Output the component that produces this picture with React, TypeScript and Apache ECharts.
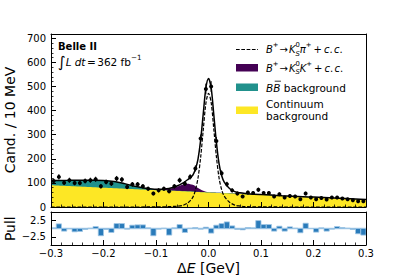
import React, { useEffect, useRef } from 'react';
import * as echarts from 'echarts';

// ---------------- data ----------------
const X_MIN = -0.3;
const X_MAX = 0.3;
const BIN_W = 0.01;

// candidates per 10 MeV bin (60 bins from -0.3 to 0.3)
const counts = [
  108, 125, 101, 111, 100, 100, 108, 111, 115, 86,
  104, 97, 118, 114, 83, 94, 94, 86, 76, 56,
  69, 76, 65, 86, 111, 97, 125, 160, 284, 490,
  500, 274, 140, 95, 69, 56, 44, 60, 58, 72,
  58, 58, 44, 53, 39, 46, 44, 32, 56, 39,
  32, 37, 31, 39, 39, 35, 32, 28, 24, 24,
];

// pull per bin
const pulls = [
  0.2, 1.4, -0.8, -0.1, -1.0, -0.9, -0.3, 0.1, 0.6, -2.2,
  -0.3, -1.2, 1.5, 1.5, -0.2, 1.0, 1.1, 1.1, 0.2, -2.2,
  -0.2, 0.1, -2.0, 0.2, 1.2, -1.2, 0.1, 0.3, -0.2, 0.4,
  -1.4, 1.0, 1.5, 2.0, 0.8, -0.3, -0.4, 0.3, 0.2, 2.4,
  1.2, 1.2, -0.8, 0.7, -0.8, 0.5, 0.1, -1.3, 1.6, 0.0,
  -1.1, 0.2, -0.8, -0.2, 0.6, 0.3, 0.1, -0.3, -1.6, -2.0,
];

// fit component curves, sampled at curveX
const curveX = [
  -0.3, -0.28, -0.26, -0.24, -0.22, -0.2, -0.18, -0.16, -0.14, -0.12, -0.1,
  -0.09, -0.08, -0.07, -0.06, -0.05, -0.04, -0.03,
  -0.025, -0.02, -0.015, -0.01, -0.005, 0, 0.005, 0.01, 0.015, 0.02, 0.025,
  0.03, 0.04, 0.05, 0.06, 0.07, 0.08,
  0.1, 0.12, 0.14, 0.16, 0.18, 0.2, 0.22, 0.24, 0.26, 0.28, 0.3,
];
const continuum = [
  90, 88, 86, 84, 82, 80, 78, 76, 74, 72, 70,
  69, 68, 67, 66, 65, 64, 63,
  62.5, 62, 61.5, 61, 60.5, 60, 59.5, 59, 58.5, 58, 57.5,
  57, 56, 55, 54, 53, 52,
  50, 48, 46, 44, 42, 40, 38, 36, 34, 32, 30,
];
const bbBkg = [
  20, 22, 25, 27, 29, 30, 28, 21, 12, 6, 3,
  2, 1.5, 1.2, 1, 1, 1, 1,
  1, 1, 1, 1, 1, 1, 1, 1, 1, 1, 1,
  1, 1, 1, 1, 1, 1,
  1, 1, 1, 1, 1, 1, 1, 1, 1, 1, 1,
];
const kskBkg = [
  0, 0, 0, 0, 0, 0, 0, 0, 0, 0, 0,
  2, 5, 10, 17, 26, 32, 28,
  23, 16, 10, 5, 2, 0.5, 0, 0, 0, 0, 0,
  0, 0, 0, 0, 0, 0,
  0, 0, 0, 0, 0, 0, 0, 0, 0, 0, 0,
];
const kspiSig = [
  0, 0, 0, 0, 0, 0, 0, 0, 0, 0.2, 0.5,
  0.8, 1, 2, 3, 6, 16, 40,
  70, 120, 205, 320, 430, 472, 435, 325, 210, 122, 72,
  45, 20, 8, 4, 2, 1,
  0.5, 0.3, 0, 0, 0, 0, 0, 0, 0, 0, 0,
];

// ---------------- helpers ----------------
type Tok = { t?: string; i?: boolean; s?: 'sup' | 'sub'; stack?: boolean; gap?: number; over?: boolean; size?: number; bold?: boolean };

let _ctx: CanvasRenderingContext2D | null = null;
function measure(font: string, text: string) {
  if (!_ctx) _ctx = document.createElement('canvas').getContext('2d');
  _ctx!.font = font;
  return _ctx!.measureText(text).width;
}
const FAMILY = '"DejaVu Sans"';
function fontOf(tk: Tok, base: number) {
  const size = tk.size ?? (tk.s ? base * 0.68 : base);
  return `${tk.i ? 'italic ' : ''}${tk.bold ? 'bold ' : ''}${size}px ${FAMILY}`;
}
function mathRow(tokens: Tok[], x0: number, y: number, base: number, center = false) {
  let total = 0;
  for (const tk of tokens) {
    if (tk.gap) { total += tk.gap; continue; }
    if (!tk.stack) total += measure(fontOf(tk, base), tk.t!);
  }
  let x = center ? x0 - total / 2 : x0;
  const els: any[] = [];
  for (const tk of tokens) {
    if (tk.gap) { x += tk.gap; continue; }
    const font = fontOf(tk, base);
    const w = measure(font, tk.t!);
    let ty = y;
    if (tk.s === 'sup') ty -= base * 0.42;
    if (tk.s === 'sub') ty += base * 0.4;
    els.push({
      type: 'text', x, y: ty, z: 100,
      style: { text: tk.t, font, fill: '#000', align: 'left', verticalAlign: 'middle', textAlign: 'left', textVerticalAlign: 'middle' },
    });
    if (tk.over) {
      els.push({ type: 'line', z: 100, shape: { x1: x + 1.5, y1: y - base * 0.6, x2: x + w + 0.5, y2: y - base * 0.6 }, style: { stroke: '#000', lineWidth: 0.8 } });
    }
    if (!tk.stack) x += w;
  }
  return els;
}

const fmtX = (v: number) => (Math.abs(v) < 1e-9 ? '0.0' : v.toFixed(1)).replace('-', '\u2212');

function buildOption() {
  const binCenters = counts.map((_, i) => X_MIN + BIN_W * (i + 0.5));
  const top1 = curveX.map((x, k) => [x, continuum[k]]);
  const top2 = curveX.map((x, k) => [x, continuum[k] + bbBkg[k]]);
  const top3 = curveX.map((x, k) => [x, continuum[k] + bbBkg[k] + kskBkg[k]]);
  const sig = curveX.map((x, k) => [x, kspiSig[k]]);
  const total = curveX.map((x, k) => [x, continuum[k] + bbBkg[k] + kskBkg[k] + kspiSig[k]]);
  const points = counts.map((c, i) => [binCenters[i], c, Math.sqrt(c)]);
  const pullData = pulls.map((p, i) => [binCenters[i], p]);

  const tickLabel = { fontFamily: 'DejaVu Sans', fontSize: 10, color: '#000' };
  const blackLine = { onZero: false, lineStyle: { color: '#000', width: 1 } };

  const frameX = (gridIndex: number, position: string) => ({
    gridIndex, type: 'value', min: X_MIN, max: X_MAX, position, z: 10,
    axisLine: { show: true, ...blackLine }, axisTick: { show: false }, axisLabel: { show: false }, splitLine: { show: false },
  });

  const mainX = (gridIndex: number, labels: boolean) => ({
    gridIndex, type: 'value', min: X_MIN, max: X_MAX, interval: 0.1, position: 'bottom', z: 10,
    axisLine: { show: true, ...blackLine },
    axisTick: { show: true, inside: true, length: 5, lineStyle: { color: '#000', width: 1 } },
    minorTick: { show: true, splitNumber: 5, length: 2.5, lineStyle: { color: '#000', width: 0.8 } },
    axisLabel: labels ? { show: true, ...tickLabel, margin: 3, formatter: fmtX } : { show: false },
    splitLine: { show: false }, minorSplitLine: { show: false },
  });

  const graphics: any[] = [];
  // axis titles
  graphics.push({ type: 'text', x: 10, y: 120, rotation: Math.PI / 2, z: 100,
    style: { text: 'Cand. / 10 MeV', font: `14px ${FAMILY}`, fill: '#000', align: 'center', verticalAlign: 'middle', textAlign: 'center', textVerticalAlign: 'middle' } });
  graphics.push({ type: 'text', x: 10, y: 228.7, rotation: Math.PI / 2, z: 100,
    style: { text: 'Pull', font: `14px ${FAMILY}`, fill: '#000', align: 'center', verticalAlign: 'middle', textAlign: 'center', textVerticalAlign: 'middle' } });
  graphics.push(...mathRow([{ t: '\u0394' }, { t: 'E', i: true }, { t: ' [GeV]' }], 208.5, 268, 14, true));

  // annotations
  graphics.push(...mathRow([{ t: 'Belle II', bold: true }], 58, 46, 10));
  graphics.push(...mathRow([
    { t: '\u222B', size: 15 }, { t: 'L', i: true }, { gap: 3 }, { t: 'd', i: true }, { t: 't', i: true },
    { gap: 1.5 }, { t: '=' }, { gap: 1.5 }, { t: '362 fb' }, { t: '\u22121', s: 'sup' },
  ], 58, 62, 10.5));

  // legend
  const LX = 236, LW = 22, TX = 266;
  graphics.push({ type: 'line', z: 100, shape: { x1: LX, y1: 49.5, x2: LX + LW, y2: 49.5 }, style: { stroke: '#000', lineWidth: 1.2, lineDash: [3.7, 1.6] } });
  graphics.push({ type: 'rect', z: 100, shape: { x: LX, y: 64, width: LW, height: 7.5 }, style: { fill: '#440154' } });
  graphics.push({ type: 'rect', z: 100, shape: { x: LX, y: 83.5, width: LW, height: 7.5 }, style: { fill: '#21918c' } });
  graphics.push({ type: 'rect', z: 100, shape: { x: LX, y: 106.5, width: LW, height: 7.5 }, style: { fill: '#fde725' } });
  const decay = (last: string): Tok[] => [
    { t: 'B', i: true }, { t: '+', s: 'sup' }, { gap: 1 }, { t: '\u2192' }, { gap: 1 },
    { t: 'K', i: true }, { t: '0', s: 'sup', stack: true }, { t: 'S', s: 'sub', i: true },
    { t: last, i: true }, { t: '+', s: 'sup' }, { gap: 2 }, { t: '+' }, { gap: 2 },
    { t: 'c', i: true }, { t: '.' }, { gap: 1.5 }, { t: 'c', i: true }, { t: '.' },
  ];
  graphics.push(...mathRow(decay('\u03C0'), TX, 49.5, 10));
  graphics.push(...mathRow(decay('K'), TX, 68, 10));
  graphics.push(...mathRow([{ t: 'B', i: true }, { t: 'B', i: true, over: true }, { t: ' background' }], TX, 87.5, 10.5));
  graphics.push(...mathRow([{ t: 'Continuum' }], TX, 104, 10.5));
  graphics.push(...mathRow([{ t: 'background' }], TX, 115.5, 10.5));

  const area = (data: number[][], color: string) => ({
    type: 'line', xAxisIndex: 0, yAxisIndex: 0, data, smooth: 0.3, symbol: 'none', showSymbol: false,
    lineStyle: { width: 0, opacity: 0 }, areaStyle: { color, opacity: 1 }, silent: true, z: 2,
  });

  return {
    animation: false,
    grid: [
      { left: 51, right: 41, top: 34, height: 173 },
      { left: 51, right: 41, top: 212, height: 33 },
    ],
    xAxis: [
      mainX(0, false),
      frameX(0, 'top'),
      mainX(1, true),
      frameX(1, 'top'),
    ],
    yAxis: [
      {
        gridIndex: 0, type: 'value', min: 0, max: 718, interval: 100, position: 'left', z: 10,
        axisLine: { show: true, ...blackLine },
        axisTick: { show: true, inside: true, length: 5, lineStyle: { color: '#000', width: 1 } },
        axisLabel: { show: true, ...tickLabel, margin: 5, formatter: (v: number) => (v % 100 === 0 ? String(v) : '') },
        splitLine: { show: false },
      },
      {
        gridIndex: 0, type: 'value', min: 0, max: 718, interval: 20, position: 'left', z: 10,
        axisLine: { show: false, onZero: false },
        axisTick: { show: true, inside: true, length: 2.5, lineStyle: { color: '#000', width: 0.8 } },
        axisLabel: { show: false }, splitLine: { show: false },
      },
      {
        gridIndex: 0, type: 'value', min: 0, max: 718, position: 'right', z: 10,
        axisLine: { show: true, ...blackLine }, axisTick: { show: false }, axisLabel: { show: false }, splitLine: { show: false },
      },
      {
        gridIndex: 1, type: 'value', min: -5, max: 5, interval: 2.5, position: 'left', z: 10,
        axisLine: { show: true, ...blackLine },
        axisTick: { show: true, inside: true, length: 5, customValues: [-2.5, 2.5], lineStyle: { color: '#000', width: 1 } },
        axisLabel: {
          show: true, ...tickLabel, margin: 5, customValues: [-2.5, 2.5],
          formatter: (v: number) => (Math.abs(Math.abs(v) - 2.5) < 1e-9 ? String(v).replace('-', '\u2212') : ''),
        },
        splitLine: { show: false },
      },
      {
        gridIndex: 1, type: 'value', min: -5, max: 5, position: 'right', z: 10,
        axisLine: { show: true, ...blackLine }, axisTick: { show: false }, axisLabel: { show: false }, splitLine: { show: false },
      },
    ],
    series: [
      area(top3, '#440154'),
      area(top2, '#21918c'),
      area(top1, '#fde725'),
      {
        type: 'line', xAxisIndex: 0, yAxisIndex: 0, data: sig, smooth: 0.3, symbol: 'none', showSymbol: false,
        lineStyle: { color: '#000', width: 1.2, type: [3.7, 1.6] }, z: 3, silent: true,
      },
      {
        type: 'line', xAxisIndex: 0, yAxisIndex: 0, data: total, smooth: 0.3, symbol: 'none', showSymbol: false,
        lineStyle: { color: '#000', width: 1.5 }, z: 4, silent: true,
      },
      {
        type: 'custom', xAxisIndex: 0, yAxisIndex: 0, data: points, z: 5, silent: true,
        encode: { x: 0, y: 1 },
        renderItem: (_p: any, api: any) => {
          const x = api.value(0), y = api.value(1), e = api.value(2);
          const c = api.coord([x, y]);
          const lo = api.coord([x, y - e]);
          const hi = api.coord([x, y + e]);
          return {
            type: 'group',
            children: [
              { type: 'line', shape: { x1: c[0], y1: lo[1], x2: c[0], y2: hi[1] }, style: { stroke: '#000', lineWidth: 1 } },
              { type: 'circle', shape: { cx: c[0], cy: c[1], r: 2 }, style: { fill: '#000' } },
            ],
          };
        },
      },
      {
        type: 'line', xAxisIndex: 2, yAxisIndex: 3, data: [[X_MIN, 0], [X_MAX, 0]], symbol: 'none', showSymbol: false,
        lineStyle: { color: '#a8cbe8', width: 1.5 }, z: 2, silent: true,
      },
      {
        type: 'custom', xAxisIndex: 2, yAxisIndex: 3, data: pullData, z: 3, silent: true,
        encode: { x: 0, y: 1 },
        renderItem: (_p: any, api: any) => {
          const x = api.value(0), v = api.value(1);
          const a = api.coord([x - BIN_W / 2, v]);
          const b = api.coord([x + BIN_W / 2, 0]);
          return {
            type: 'rect',
            shape: { x: a[0], y: Math.min(a[1], b[1]), width: b[0] - a[0], height: Math.abs(b[1] - a[1]) },
            style: { fill: '#2a7bba', stroke: '#9fc6e6', lineWidth: 0.8 },
          };
        },
      },
    ],
    graphic: graphics,
  };
}

export default function App() {
  const ref = useRef<HTMLDivElement>(null);
  useEffect(() => {
    document.body.style.margin = '0';
    const chart = echarts.init(ref.current!, null, { renderer: 'svg' });
    chart.setOption(buildOption() as any);
    return () => chart.dispose();
  }, []);
  return <div ref={ref} style={{ position: 'fixed', left: 0, top: 0, width: 407, height: 280, background: '#fff' }} />;
}
